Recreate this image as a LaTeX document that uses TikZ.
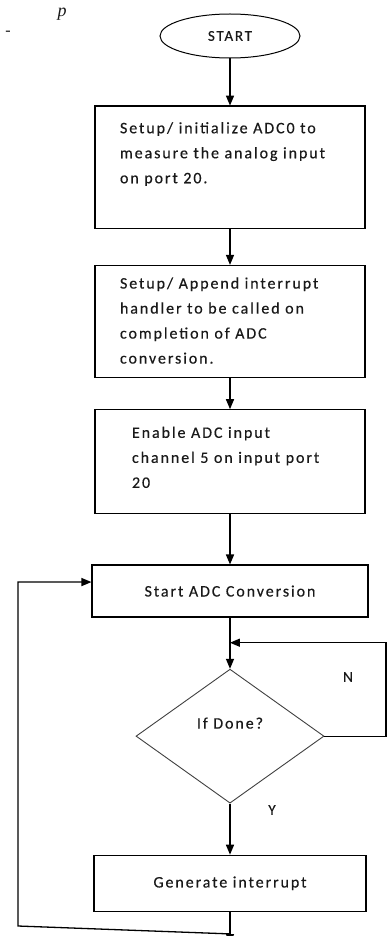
\documentclass[tikz,border=0pt]{standalone}
\usepackage{fontspec}
\setmainfont{Carlito}[LetterSpace=12, FakeBold=0.4]
\newfontfamily\pagefont{Liberation Serif}
\usetikzlibrary{arrows,shapes.geometric,positioning}

\begin{document}
\begin{tikzpicture}[x=1pt,y=-1pt,>=triangle 45,line width=1.3pt,
  every node/.style={font=\fontsize{16}{25}\selectfont, text=black!90},
  terminal/.style={ellipse, draw, line width=1pt, minimum width=140pt, minimum height=44pt, inner sep=0pt, font=\fontsize{15}{18}\selectfont},
  process/.style={rectangle, draw, minimum width=270pt, inner sep=0pt},
  decision/.style={diamond, draw=black!75, line width=0.9pt, minimum width=188pt, minimum height=134pt, inner sep=0pt},
  boxtext/.style={anchor=north west, align=left, inner sep=0pt},
  tag/.style={font=\fontsize{15}{18}\selectfont, inner sep=0pt},
  flow/.style={->}]
  \useasboundingbox (0,0) rectangle (388,936);
  \node[anchor=base, inner sep=0pt, font=\pagefont\fontsize{18}{18}\selectfont\itshape] (pfrag) at (62,17) {p};
  \node[inner sep=0pt, font=\pagefont\fontsize{16}{16}\selectfont] (dash) at (8,33) {-};

  \node[terminal] (start) at (230,36) {START};
  \node[process, minimum height=122pt, below=47pt of start] (init) {};
  \node[process, minimum height=112pt, below=36pt of init] (handler) {};
  \node[process, minimum height=104pt, below=31pt of handler] (enable) {};
  \node[process, minimum height=52pt, minimum width=276pt, below=50pt of enable] (conv) {Start ADC Conversion};
  \node[decision, below=51pt of conv] (done) {};
  \node[process, minimum height=56pt, minimum width=272pt, below=51pt of done] (irq) {Generate interrupt};

  \node[boxtext] (inittxt) at ([xshift=25pt,yshift=-16pt]init.north west)
    {Setup/ initialize ADC0 to\\measure the analog input\\on port 20.};
  \node[boxtext] (handlertxt) at ([xshift=25pt,yshift=-12pt]handler.north west)
    {Setup/ Append interrupt\\handler to be called on\\completion of ADC\\conversion.};
  \node[boxtext] (enabletxt) at ([xshift=37pt,yshift=-17pt]enable.north west)
    {Enable ADC input\\channel 5 on input port\\20};
  \node (donetxt) at ([yshift=13pt]done.center) {If Done?};
  \node[tag] (nlabel) at (348,677) {N};
  \node[tag] (ylabel) at (272,810) {Y};

  \coordinate[below=25pt of conv] (join);
  \coordinate[below=22pt of irq] (back);
  \coordinate[below=32pt of irq] (bottom);
  \coordinate (rside) at (386,730);
  \coordinate (lside) at (18,926);

  \draw[flow] (start) -- (init);
  \draw[flow] (init) -- (handler);
  \draw[flow] (handler) -- (enable);
  \draw[flow] (enable) -- (conv);
  \draw[flow] (conv) -- (done);
  \draw[flow] (done) -- (irq);
  \draw[flow] (irq) -- (bottom);
  \draw[flow] (done.east) -- (done.east -| rside) |- (join);
  \draw[flow] (back) -- (lside) |- ([yshift=9pt]conv.west);
\end{tikzpicture}
\end{document}
